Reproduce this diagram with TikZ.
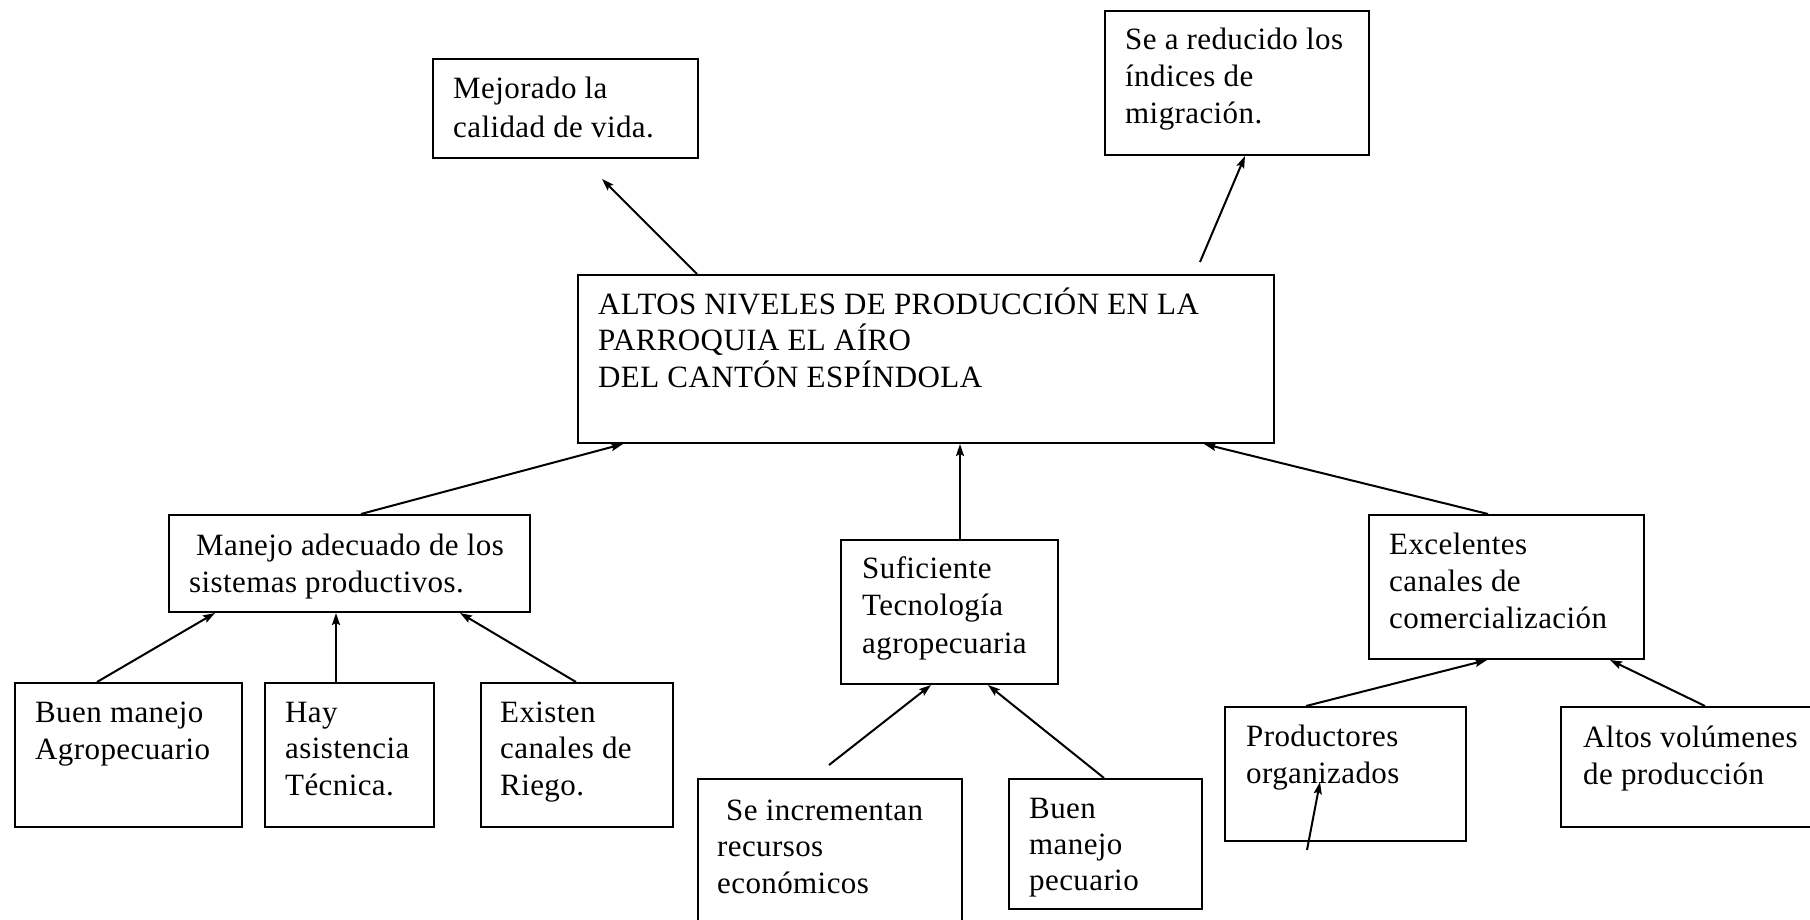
\documentclass[tikz,border=0pt]{standalone}
\usepackage{fontspec}
\setmainfont{Liberation Serif}[LetterSpace=1.3]
\usetikzlibrary{arrows.meta,calc}
\tikzset{
  box/.style={draw=black, line width=2pt, anchor=north west, inner sep=0pt, rectangle},
  lbl/.style={anchor=base west, inner sep=0pt, align=left, font=\fontsize{31}{36.5}\selectfont},
  conn/.style={line width=2pt, -{Stealth[length=12pt,width=8pt,inset=2pt]}},
}
\begin{document}
\begin{tikzpicture}[x=1pt,y=-1pt]
\useasboundingbox (0,0) rectangle (1810,920);
% boxes
\node[box, minimum width=265pt, minimum height=99pt] (mej) at (432,58) {};
\node[box, minimum width=264pt, minimum height=144pt] (mig) at (1104,10) {};
\node[box, minimum width=696pt, minimum height=168pt] (main) at (577,274) {};
\node[box, minimum width=361pt, minimum height=97pt] (man) at (168,514) {};
\node[box, minimum width=227pt, minimum height=144pt] (buen) at (14,682) {};
\node[box, minimum width=169pt, minimum height=144pt] (hay) at (264,682) {};
\node[box, minimum width=192pt, minimum height=144pt] (exi) at (480,682) {};
\node[box, minimum width=217pt, minimum height=144pt] (suf) at (840,539) {};
\node[box, minimum width=264pt, minimum height=170pt] (inc) at (697,778) {};
\node[box, minimum width=193pt, minimum height=130pt] (bmp) at (1008,778) {};
\node[box, minimum width=275pt, minimum height=144pt] (exc) at (1368,514) {};
\node[box, minimum width=241pt, minimum height=134pt] (pro) at (1224,706) {};
\node[box, minimum width=290pt, minimum height=120pt] (alt) at (1560,706) {};
% labels (anchored at the baseline of the last line)
\node[lbl, font=\fontsize{31}{39.5}\selectfont] (tmej) at (453,138) {Mejorado la\\calidad de vida.};
\node[lbl, font=\fontsize{31}{37}\selectfont] (tmig) at (1125,124) {Se a reducido los\\índices de\\migración.};
\node[lbl] (tmain) at (598,387) {ALTOS NIVELES DE PRODUCCIÓN EN LA\\PARROQUIA EL AÍRO\\DEL CANTÓN ESPÍNDOLA};
\node[lbl] (tman) at (189,592) {\hspace*{7pt}Manejo adecuado de los\\sistemas productivos.};
\node[lbl] (tbuen) at (35,759) {Buen manejo\\Agropecuario};
\node[lbl] (thay) at (285,795) {Hay\\asistencia\\Técnica.};
\node[lbl] (texi) at (500,795) {Existen\\canales de\\Riego.};
\node[lbl, font=\fontsize{31}{37.5}\selectfont] (tsuf) at (862,653) {Suficiente\\Tecnología\\agropecuaria};
\node[lbl] (tinc) at (717,893) {\hspace*{9pt}Se incrementan\\recursos\\económicos};
\node[lbl, font=\fontsize{31}{36}\selectfont] (tbmp) at (1029,890) {Buen\\manejo\\pecuario};
\node[lbl, font=\fontsize{31}{37}\selectfont] (texc) at (1389,628) {Excelentes\\canales de\\comercialización};
\node[lbl] (tpro) at (1246,783) {Productores\\organizados};
\node[lbl] (talt) at (1583,784) {Altos volúmenes\\de producción};
% free ends
\coordinate (c1) at (602,179);
\coordinate (c2) at (1200,262);
\coordinate (c3) at (829,765);
\coordinate (c4) at (1307,850);
\coordinate (c5) at (1320,782);
% connectors
\draw[conn] ($(main.north west)+(120,0)$) -- (c1);
\draw[conn] (c2) -- ($(mig.south west)+(141,0)$);
\draw[conn] ($(man.north west)+(193,0)$) -- ($(main.south west)+(46,0)$);
\draw[conn] ($(suf.north west)+(120,0)$) -- ($(main.south west)+(383,0)$);
\draw[conn] ($(exc.north west)+(120,0)$) -- ($(main.south west)+(627,0)$);
\draw[conn] ($(buen.north west)+(83,0)$) -- ($(man.south west)+(47,0)$);
\draw[conn] ($(hay.north west)+(72,0)$) -- ($(man.south west)+(168,0)$);
\draw[conn] ($(exi.north west)+(96,0)$) -- ($(man.south west)+(292,0)$);
\draw[conn] (c3) -- ($(suf.south west)+(91,0)$);
\draw[conn] ($(bmp.north west)+(96,0)$) -- ($(suf.south west)+(148,0)$);
\draw[conn] ($(pro.north west)+(82,0)$) -- ($(exc.south west)+(119,0)$);
\draw[conn] ($(alt.north west)+(145,0)$) -- ($(exc.south west)+(242,0)$);
\draw[conn] (c4) -- (c5);
\end{tikzpicture}
\end{document}
